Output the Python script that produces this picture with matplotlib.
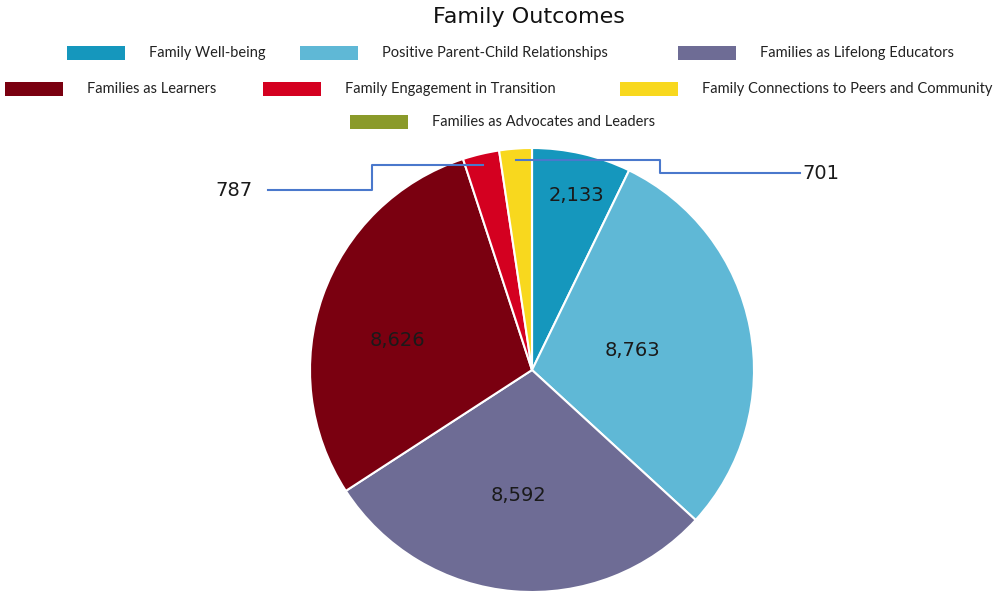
import numpy as np
import matplotlib
matplotlib.use("Agg")
import matplotlib.pyplot as plt
from matplotlib.patches import Rectangle

# data
categories = ["Family Well-being", "Positive Parent-Child Relationships",
              "Families as Lifelong Educators", "Families as Learners",
              "Family Engagement in Transition",
              "Family Connections to Peers and Community",
              "Families as Advocates and Leaders"]
values = [2133, 8763, 8592, 8626, 787, 701, 0]
colors = ["#1597BD", "#5FB8D6", "#6E6C95", "#7A0010", "#D40020", "#F8D81E", "#8A9A2A"]

W, H = 995, 592
fig = plt.figure(figsize=(W / 100, H / 100), dpi=100)

# pie axes, center (532,370) radius 222 px
cx, cy, R = 532, 370, 222
ax = fig.add_axes([(cx - R) / W, (H - cy - R) / H, 2 * R / W, 2 * R / H])
wedges, _ = ax.pie(values, colors=colors, startangle=90, counterclock=False,
                   wedgeprops=dict(edgecolor="white", linewidth=1.5))
ax.set_xlim(-1, 1)
ax.set_ylim(-1, 1)
ax.set_aspect("equal")
ax.axis("off")

# inside labels (radius, angle shift from wedge middle)
inner_pos = [(0.81, -1.5), (0.46, 0.5), (0.57, -1.5), (0.62, 7.0)]
for i, (r, dt) in enumerate(inner_pos):
    w = wedges[i]
    a = np.deg2rad((w.theta1 + w.theta2) / 2 + dt)
    ax.text(r * np.cos(a), r * np.sin(a), f"{values[i]:,}", ha="center", va="center",
            fontsize=14, color="#1a1a1a")

# leader lines for small slices
line_col = "#4A78CC"
w = wedges[4]
a = np.deg2rad((w.theta1 + w.theta2) / 2)
x0, y0 = 0.95 * np.cos(a), 0.95 * np.sin(a)
ax.plot([x0, -0.72, -0.72, -1.19], [y0, y0, 0.81, 0.81], color=line_col, lw=1.5,
        clip_on=False)
ax.text(-1.26, 0.81, f"{values[4]:,}", ha="right", va="center", fontsize=14,
        color="#1a1a1a")

w = wedges[5]
a = np.deg2rad((w.theta1 + w.theta2) / 2)
x0, y0 = 0.95 * np.cos(a), 0.95 * np.sin(a)
ax.plot([x0, 0.577, 0.577, 1.207], [y0, y0, 0.887, 0.887], color=line_col, lw=1.5,
        clip_on=False)
ax.text(1.22, 0.887, f"{values[5]:,}", ha="left", va="center", fontsize=14,
        color="#1a1a1a")

# title
fig.text(529 / W, 1 - 17 / H, "Family Outcomes", ha="center", va="center",
         fontsize=16, color="#111111")

# legend, placed like the original
leg_pos = [(67, 53), (300, 53), (678, 53), (5, 89), (263, 89), (620, 89), (350, 122)]
for (px, py), lab, c in zip(leg_pos, categories, colors):
    fig.add_artist(Rectangle((px / W, 1 - (py + 7) / H), 58 / W, 14 / H,
                             transform=fig.transFigure, facecolor=c, edgecolor="none"))
    fig.text((px + 82) / W, 1 - py / H, lab, ha="left", va="center",
             fontsize=10.5, family="Lato", color="#222222")

fig.savefig("out.png", dpi=100)
